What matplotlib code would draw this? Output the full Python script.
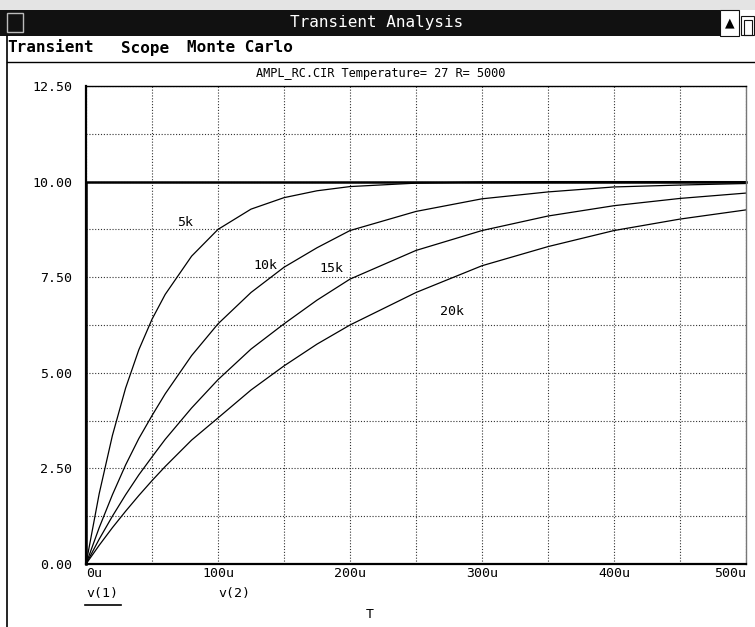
import matplotlib
matplotlib.use("Agg")
import matplotlib.pyplot as plt
from matplotlib.patches import Rectangle
from matplotlib.lines import Line2D

W, H = 755, 627

# ---- data (time in microseconds, voltage in volts) ----
time_us = [0, 10, 20, 30, 40, 50, 60, 80, 100, 125, 150, 175, 200, 250, 300, 350, 400, 450, 500]
v_5k  = [0, 1.84, 3.36, 4.60, 5.60, 6.40, 7.05, 8.05, 8.75, 9.28, 9.58, 9.76, 9.87, 9.96, 9.99, 10.0, 10.0, 10.0, 10.0]
v_10k = [0, 0.95, 1.81, 2.59, 3.28, 3.88, 4.45, 5.45, 6.28, 7.10, 7.76, 8.27, 8.72, 9.22, 9.55, 9.73, 9.86, 9.91, 9.95]
v_15k = [0, 0.65, 1.25, 1.81, 2.33, 2.80, 3.26, 4.08, 4.82, 5.62, 6.28, 6.90, 7.45, 8.20, 8.72, 9.10, 9.37, 9.56, 9.70]
v_20k = [0, 0.49, 0.95, 1.38, 1.79, 2.18, 2.55, 3.24, 3.82, 4.55, 5.18, 5.75, 6.25, 7.10, 7.80, 8.30, 8.72, 9.02, 9.26]
t_step = [0, 0, 500]
v_step = [0, 10, 10]

curve_labels = ["5k", "10k", "15k", "20k"]
label_t = [75, 136, 186, 277]
label_v = [8.92, 7.81, 7.73, 6.61]

x_ticks = [0, 100, 200, 300, 400, 500]
x_tick_labels = ["0u", "100u", "200u", "300u", "400u", "500u"]
y_ticks = [0, 2.5, 5, 7.5, 10, 12.5]
y_tick_labels = ["0.00", "2.50", "5.00", "7.50", "10.00", "12.50"]

window_title = "Transient Analysis"
menu_items = ["Transient", "Scope", "Monte Carlo"]
menu_x = [7, 121, 187]
plot_subtitle = "AMPL_RC.CIR Temperature= 27 R= 5000"
trace_names = ["v(1)", "v(2)"]
x_axis_name = "T"

MONO = "DejaVu Sans Mono"

def fx(px):
    return px / W

def fy(py):
    return 1 - py / H

fig = plt.figure(figsize=(W / 100, H / 100), dpi=100)
fig.patch.set_facecolor("white")

# ---- window chrome ----
fig.patches.append(Rectangle((0, fy(10)), 1, 10 / H, transform=fig.transFigure,
                             facecolor="#e4e4e4", edgecolor="none", zorder=0))
fig.patches.append(Rectangle((0, fy(36)), fx(720), 26 / H, transform=fig.transFigure,
                             facecolor="#111111", edgecolor="none", zorder=1))
fig.patches.append(Rectangle((fx(7), fy(32)), 16 / W, 19 / H, transform=fig.transFigure,
                             facecolor="#111111", edgecolor="#bbbbbb", lw=1.0, zorder=2))
fig.patches.append(Rectangle((fx(720), fy(36)), 19 / W, 26 / H, transform=fig.transFigure,
                             facecolor="white", edgecolor="#111111", lw=0.8, zorder=2))
fig.patches.append(Rectangle((fx(741), fy(35)), 13 / W, 19 / H, transform=fig.transFigure,
                             facecolor="white", edgecolor="#111111", lw=0.8, zorder=2))
fig.patches.append(Rectangle((fx(744), fy(35)), 8 / W, 15 / H, transform=fig.transFigure,
                             facecolor="none", edgecolor="#111111", lw=0.8, zorder=3))
fig.text(fx(729.5), fy(23), "\u25B2", color="black", fontsize=9, ha="center", va="center",
         family="DejaVu Sans")
fig.text(fx(377), fy(23), window_title, color="white", fontsize=11.5, family=MONO,
         ha="center", va="center")
for name, x in zip(menu_items, menu_x):
    fig.text(fx(x), fy(48), name, color="black", fontsize=11.5, family=MONO,
             fontweight="bold", ha="left", va="center")
fig.add_artist(Line2D([fx(7), 1], [fy(62), fy(62)], color="black", lw=1.0,
                      transform=fig.transFigure))
fig.add_artist(Line2D([fx(7), fx(7)], [fy(36), 0], color="black", lw=1.2,
                      transform=fig.transFigure))

# ---- plot ----
ax = fig.add_axes([fx(86), fy(564), (746 - 86) / W, (564 - 86) / H])
ax.set_xlim(0, 500)
ax.set_ylim(0, 12.5)

ax.set_xticks(x_ticks)
ax.set_xticklabels(x_tick_labels, family=MONO, fontsize=9.5)
ax.set_yticks(y_ticks)
ax.set_yticklabels(y_tick_labels, family=MONO, fontsize=9.5)
ax.set_xticks([50, 150, 250, 350, 450], minor=True)
ax.set_yticks([1.25, 3.75, 6.25, 8.75, 11.25], minor=True)
ax.tick_params(axis="both", which="both", length=0)
ax.tick_params(axis="y", pad=10)
ax.tick_params(axis="x", pad=2)
xl = ax.get_xticklabels()
xl[0].set_ha("left")
xl[-1].set_ha("right")

ax.grid(True, which="both", color="#333333", lw=0.8, linestyle=(0, (1, 1.6)))
ax.set_axisbelow(True)

for s in ["left", "bottom"]:
    ax.spines[s].set_linewidth(1.6)
    ax.spines[s].set_color("black")
ax.spines["top"].set_linewidth(1.0)
ax.spines["right"].set_linewidth(1.0)
ax.spines["right"].set_color("#777777")

ax.plot(t_step, v_step, color="black", lw=1.8, clip_on=False)
for v in [v_5k, v_10k, v_15k, v_20k]:
    ax.plot(time_us, v, color="black", lw=0.9)

for lab, t, v in zip(curve_labels, label_t, label_v):
    ax.text(t, v, lab, family=MONO, fontsize=9.5, ha="center", va="center")

fig.text(fx(256), fy(73), plot_subtitle, family=MONO, fontsize=8.6, ha="left", va="center")

fig.text(fx(86), fy(594), trace_names[0], family=MONO, fontsize=9.5, ha="left", va="center")
fig.add_artist(Line2D([fx(85), fx(121)], [fy(605), fy(605)], color="black", lw=1.2,
                      transform=fig.transFigure))
fig.text(fx(218), fy(594), trace_names[1], family=MONO, fontsize=9.5, ha="left", va="center")
fig.text(fx(370), fy(614), x_axis_name, family=MONO, fontsize=9.5, ha="center", va="center")

fig.savefig("out.png", dpi=100, facecolor=fig.get_facecolor())
